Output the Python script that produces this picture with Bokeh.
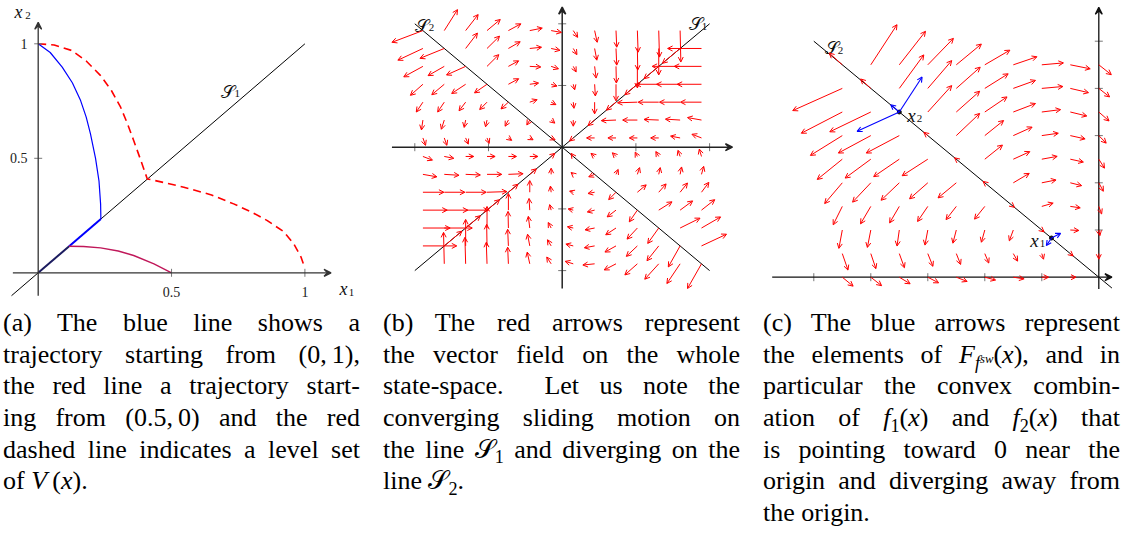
import numpy as np
from bokeh.plotting import figure
from bokeh.models import Arrow, VeeHead, OpenHead, ColumnDataSource, Range1d, Div, Spacer
from bokeh.layouts import row, column
from bokeh.core.properties import value
from bokeh.embed import file_html
from bokeh.resources import INLINE

# ---------------- panel (a) data ----------------
A_BLUE_X = [0.0, 0.045, 0.09, 0.128, 0.159, 0.18, 0.196, 0.215, 0.228, 0.234, 0.235]
A_BLUE_Y = [1.0, 0.962, 0.898, 0.83, 0.752, 0.68, 0.607, 0.5, 0.4, 0.3, 0.235]
A_BLUE_SLIDE = [0.235, 0.115]
A_RED_X = [0.5, 0.434, 0.358, 0.3, 0.234, 0.17, 0.115]
A_RED_Y = [0.0, 0.039, 0.0755, 0.095, 0.109, 0.115, 0.116]
A_MIX_SLIDE = [0.115, 0.0]
A_LEVEL_X = [0.0, 0.06, 0.125, 0.18, 0.234, 0.275, 0.309, 0.335, 0.358, 0.385, 0.4, 0.409,
             0.48, 0.546, 0.65, 0.733, 0.8, 0.859, 0.92, 0.958, 0.985, 1.0]
A_LEVEL_Y = [1.0, 0.995, 0.971, 0.925, 0.861, 0.795, 0.723, 0.65, 0.578, 0.49, 0.44, 0.41,
             0.392, 0.374, 0.34, 0.301, 0.265, 0.228, 0.18, 0.127, 0.07, 0.02]
A_S1 = [-0.1, 1.0]
A_TICKS = [0.5, 1.0]
A_TICK_LABELS = ["0.5", "1"]

# ---------------- panel (b) data ----------------
B_GRID = [-1.89, -1.6, -1.31, -1.02, -0.73, -0.44, -0.15, 0.15, 0.44, 0.73, 1.02, 1.31, 1.6, 1.89]
B_ROWS = [1.89, 1.6, 1.31, 1.02, 0.73, 0.44, 0.15, -0.15, -0.44, -0.73, -1.02, -1.31, -1.6, -1.89]
B_DX = [
    [-0.42, 0.18, 0.17, 0.18, 0.17, 0.17, 0.14, 0.06, 0.035, 0.01, 0.01, 0.01, 0.01, None],
    [-0.34, -0.33, 0.16, 0.17, 0.16, 0.16, 0.12, 0.05, 0.03, 0.01, 0.005, 0.0, -0.24, -0.46],
    [-0.26, -0.22, -0.26, 0.16, 0.14, 0.15, 0.10, 0.04, 0.02, 0.005, 0.0, -0.20, -0.38, -0.37],
    [-0.17, -0.17, -0.19, -0.17, 0.14, 0.12, 0.08, 0.02, 0.01, 0.0, -0.17, -0.31, -0.32, -0.33],
    [-0.09, -0.09, -0.09, -0.10, -0.10, 0.10, 0.065, 0.01, 0.0, -0.13, -0.27, -0.28, -0.28, -0.285],
    [-0.02, -0.04, -0.02, -0.02, -0.045, -0.04, 0.05, 0.0, -0.09, -0.20, -0.20, -0.20, -0.20, -0.19],
    [0.036, 0.036, 0.036, 0.03, 0.045, 0.045, 0.054, -0.05, -0.11, -0.11, -0.11, -0.11, -0.13, -0.13],
    [0.13, 0.13, 0.11, 0.11, 0.11, 0.11, 0.05, -0.03, -0.05, -0.05, -0.03, -0.04, -0.03, -0.03],
    [0.19, 0.20, 0.20, 0.20, 0.20, 0.09, 0.0, -0.03, -0.08, 0.03, 0.03, 0.02, 0.02, 0.03],
    [0.285, 0.28, 0.28, 0.27, 0.13, 0.0, -0.01, -0.05, -0.09, -0.10, 0.12, 0.10, 0.10, 0.10],
    [0.33, 0.32, 0.31, 0.17, 0.0, -0.01, -0.02, -0.07, -0.10, -0.12, -0.11, 0.18, 0.17, 0.18],
    [0.37, 0.38, 0.20, 0.0, -0.005, -0.02, -0.04, -0.08, -0.13, -0.14, -0.14, -0.15, 0.27, 0.26],
    [0.46, 0.24, 0.0, -0.005, -0.01, -0.03, -0.05, -0.10, -0.14, -0.15, -0.15, -0.16, -0.16, 0.34],
    [None, -0.01, -0.01, -0.01, -0.01, -0.035, -0.06, -0.11, -0.16, -0.16, -0.17, -0.19, -0.18, -0.19],
]
B_DY = [
    [-0.19, 0.34, 0.26, 0.18, 0.11, 0.04, -0.03, -0.11, -0.19, -0.27, -0.35, -0.43, -0.51, None],
    [-0.19, -0.16, 0.25, 0.20, 0.11, 0.02, -0.03, -0.10, -0.19, -0.27, -0.35, -0.43, -0.24, 0.0],
    [-0.17, -0.15, -0.14, 0.19, 0.09, -0.01, -0.04, -0.09, -0.19, -0.27, -0.35, -0.20, 0.0, 0.0],
    [-0.18, -0.17, -0.15, -0.14, 0.09, 0.02, -0.03, -0.09, -0.19, -0.27, -0.17, 0.0, 0.0, 0.0],
    [-0.16, -0.16, -0.14, -0.12, -0.11, 0.04, -0.04, -0.10, -0.19, -0.13, -0.01, 0.0, 0.0, 0.0],
    [-0.16, -0.15, -0.12, -0.11, -0.10, -0.08, -0.05, -0.10, -0.09, -0.01, 0.0, 0.01, 0.015, 0.04],
    [-0.12, -0.12, -0.10, -0.09, -0.04, -0.03, -0.03, -0.05, 0.0, 0.0, 0.0, 0.0, 0.03, 0.06],
    [-0.06, -0.03, 0.0, 0.0, 0.0, 0.0, 0.05, 0.05, 0.05, 0.06, 0.07, 0.08, 0.10, 0.12],
    [-0.04, -0.015, -0.01, 0.0, 0.01, 0.09, 0.10, 0.03, -0.04, 0.08, 0.11, 0.11, 0.12, 0.13],
    [0.0, 0.0, 0.0, 0.01, 0.13, 0.19, 0.10, 0.02, -0.02, -0.12, 0.12, 0.135, 0.15, 0.16],
    [0.0, 0.0, 0.0, 0.17, 0.27, 0.19, 0.09, 0.02, -0.03, -0.11, -0.19, 0.135, 0.15, 0.17],
    [0.0, 0.0, 0.20, 0.35, 0.27, 0.19, 0.09, 0.02, -0.03, -0.11, -0.18, -0.25, 0.16, 0.18],
    [0.0, 0.24, 0.43, 0.35, 0.27, 0.19, 0.10, 0.03, -0.03, -0.10, -0.17, -0.24, -0.34, 0.19],
    [None, 0.51, 0.43, 0.35, 0.27, 0.19, 0.11, 0.04, -0.02, -0.10, -0.18, -0.25, -0.32, -0.40],
]
B_TICKS = [-2.0, -1.0, 1.0, 2.0]
B_LINE = [-2.0, 2.0]

# ---------------- panel (c) data ----------------
C_XS = [-4.5, -4.0, -3.5, -3.0, -2.5, -2.0, -1.5, -1.0, -0.5, 0.0]
C_YS = [4.5, 4.0, 3.5, 3.0, 2.5, 2.0, 1.5, 1.0, 0.5, 0.0]
C_DX = [
    [-0.23, 0.46, 0.46, 0.45, 0.44, 0.44, 0.415, 0.38, 0.35, 0.22],
    [-0.87, -0.18, 0.43, 0.42, 0.42, 0.41, 0.39, 0.37, 0.32, 0.19],
    [-0.72, -0.72, None, 0.42, 0.41, 0.39, 0.39, 0.33, 0.29, 0.18],
    [-0.56, -0.57, -0.58, -0.07, 0.41, 0.33, 0.33, 0.29, 0.26, 0.13],
    [-0.44, -0.45, -0.45, -0.45, -0.03, 0.31, 0.29, 0.27, 0.23, 0.10],
    [-0.31, -0.32, -0.32, -0.32, -0.32, -0.03, 0.28, 0.25, 0.20, 0.08],
    [-0.16, -0.18, -0.17, -0.18, -0.18, -0.18, 0.02, 0.20, 0.175, 0.05],
    [-0.06, -0.06, -0.04, -0.05, -0.06, -0.06, -0.07, 0.04, 0.15, 0.02],
    [0.10, 0.09, 0.09, 0.09, 0.076, 0.07, 0.076, 0.03, 0.05, 0.0],
    [0.19, 0.19, 0.19, 0.19, 0.19, 0.19, 0.19, 0.12, 0.10, None],
]
C_DY = [
    [0.25, 0.85, 0.71, 0.56, 0.44, 0.31, 0.17, 0.04, -0.085, -0.21],
    [-0.47, 0.20, 0.71, 0.59, 0.45, 0.31, 0.17, 0.04, -0.09, -0.18],
    [-0.45, -0.42, None, 0.56, 0.44, 0.32, 0.18, 0.05, -0.085, -0.19],
    [-0.42, -0.37, -0.37, 0.07, 0.47, 0.32, 0.18, 0.05, -0.07, -0.16],
    [-0.43, -0.40, -0.37, -0.35, 0.03, 0.30, 0.16, 0.06, -0.06, -0.19],
    [-0.44, -0.41, -0.37, -0.34, -0.32, 0.03, 0.20, 0.06, -0.06, -0.18],
    [-0.39, -0.37, -0.35, -0.32, -0.28, -0.27, -0.02, 0.07, -0.03, -0.16],
    [-0.39, -0.37, -0.34, -0.32, -0.28, -0.26, -0.23, -0.04, -0.01, -0.12],
    [-0.35, -0.32, -0.30, -0.27, -0.23, -0.20, -0.16, -0.12, -0.05, -0.12],
    [-0.19, -0.18, -0.14, -0.12, -0.09, -0.06, -0.035, 0.0, 0.0, None],
]
C_BLUE_X0 = [-3.5, -3.5, -3.5, -0.83, -0.83]
C_BLUE_Y0 = [3.5, 3.5, 3.5, 0.83, 0.83]
C_BLUE_DX = [0.40, -0.74, -0.15, 0.16, -0.09]
C_BLUE_DY = [0.74, -0.41, 0.155, 0.10, -0.16]
C_XTICKS = [-5.0, -4.0, -3.0, -2.0, -1.0]
C_YTICKS = [1.0, 2.0, 3.0, 4.0, 5.0]
C_S2 = [-5.0, 0.23]

# ---------------- captions ----------------
SUB = '<span style="font-size:0.7em;position:relative;top:0.3em;">{}</span>'
CAP_A = [
    "(a) The blue line shows a",
    "trajectory starting from (0,&#8201;1),",
    "the red line a trajectory start-",
    "ing from (0.5,&#8201;0) and the red",
    "dashed line indicates a level set",
    "of <i>V</i>&#8201;(<i>x</i>).",
]
CAP_B = [
    "(b) The red arrows represent",
    "the vector field on the whole",
    "state-space.&nbsp; Let us note the",
    "converging sliding motion on",
    "the line \U0001D4AE" + SUB.format("1") + " and diverging on the",
    "line \U0001D4AE" + SUB.format("2") + ".",
]
CAP_C = [
    "(c) The blue arrows represent",
    "the elements of <i>F</i><span style=\"font-size:0.7em;position:relative;top:0.35em;\"><i>f</i>"
    "<span style=\"font-size:0.7em;position:relative;top:-0.45em;\"><i>sw</i></span></span>(<i>x</i>), and in",
    "particular the convex combin-",
    "ation of <i>f</i>" + SUB.format("1") + "(<i>x</i>) and <i>f</i>" + SUB.format("2") + "(<i>x</i>) that",
    "is pointing toward 0 near the",
    "origin and diverging away from",
    "the origin.",
]

FW, FH = 356, 306
CW, CH = 357, 222
FONT = "Liberation Serif"
CSS_FONT = "'Liberation Serif','Times New Roman',Times,'DejaVu Serif',serif"


def base_fig(xr, yr):
    p = figure(width=FW, height=FH, x_range=Range1d(*xr), y_range=Range1d(*yr),
               output_backend="svg", toolbar_location=None,
               x_axis_location=None, y_axis_location=None, min_border=0)
    p.grid.visible = False
    p.outline_line_color = None
    return p


def add_arrows(p, x0, y0, x1, y1, color, width=1.0, head=5, kind="open"):
    src = ColumnDataSource(dict(x0=x0, y0=y0, x1=x1, y1=y1))
    if kind == "open":
        h = OpenHead(size=head, line_color=color, line_width=width)
    else:
        h = VeeHead(size=head, line_color=color, fill_color=color, line_width=width)
    p.add_layout(Arrow(end=h, source=src, x_start="x0", y_start="y0", x_end="x1", y_end="y1",
                       line_color=color, line_width=width))


def field(xs, ys, DX, DY):
    x0, y0, x1, y1 = [], [], [], []
    for j, yv in enumerate(ys):
        for i, xv in enumerate(xs):
            u, v = DX[j][i], DY[j][i]
            if u is None:
                continue
            x0.append(xv); y0.append(yv); x1.append(xv + u); y1.append(yv + v)
    return x0, y0, x1, y1


def math_label(p, x, y, main, sub, size, sub_size, sdx, sdy, style="italic"):
    p.text(x=[x], y=[y], text=[main], text_font=value(FONT), text_font_size=f"{size}px",
           text_font_style=style, text_align="center", text_baseline="alphabetic", text_color="#111")
    if sub:
        p.text(x=[x], y=[y], text=[sub], x_offset=sdx, y_offset=sdy, text_font=value(FONT),
               text_font_size=f"{sub_size}px", text_align="center", text_baseline="alphabetic",
               text_color="#111")


def ticks(p, xs, ys, vertical, color="#777"):
    p.scatter(x=xs, y=ys, marker="dash", size=8, angle=(np.pi / 2 if vertical else 0.0),
              line_color=color, line_width=1)


# ================= panel (a) =================
pa = base_fig((-0.14136, 1.19348), (-0.14716, 1.18908))
pa.line(A_S1, A_S1, line_color="black", line_width=1)
pa.line(A_LEVEL_X, A_LEVEL_Y, line_color="red", line_width=1.6, line_dash="8 5")
pa.line(A_BLUE_X, A_BLUE_Y, line_color="blue", line_width=1.2)
pa.line(A_BLUE_SLIDE, A_BLUE_SLIDE, line_color="blue", line_width=2)
pa.line(A_RED_X, A_RED_Y, line_color="#c0185a", line_width=1.4)
pa.line(A_MIX_SLIDE, A_MIX_SLIDE, line_color="#1c1c60", line_width=2)
add_arrows(pa, [-0.095], [0.0], [1.098], [0.0], "#333", width=1.3, head=7, kind="vee")
add_arrows(pa, [0.0], [-0.1], [0.0], [1.094], "#333", width=1.3, head=7, kind="vee")
ticks(pa, A_TICKS, [0.0, 0.0], True)
ticks(pa, [0.0, 0.0], A_TICKS, False)
pa.text(x=A_TICKS, y=[-0.086, -0.086], text=A_TICK_LABELS, text_font=value(FONT), text_font_size="14px",
        text_align="center", text_baseline="alphabetic", text_color="#222")
pa.text(x=[-0.04, -0.04], y=A_TICKS, text=A_TICK_LABELS, text_font=value(FONT), text_font_size="14px",
        text_align="right", text_baseline="middle", text_color="#222")
math_label(pa, -0.0739, 1.141, "x", "2", 18, 11, 9.5, 4)
math_label(pa, 1.1447, -0.0686, "x", "1", 18, 11, 8, 4)
math_label(pa, 0.7105, 0.7900, "\U0001D4AE", "1", 18, 11, 9.5, 2, style="normal")

# ================= panel (b) =================
pb = base_fig((-2.42469, 2.40570), (-2.58185, 2.37763))
pb.line(B_LINE, B_LINE, line_color="black", line_width=1)
pb.line(B_LINE, B_LINE[::-1], line_color="black", line_width=1)
add_arrows(pb, [-2.31], [0.0], [2.31], [0.0], "#222", width=1.5, head=7, kind="vee")
add_arrows(pb, [0.0], [-2.29], [0.0], [2.27], "#222", width=1.5, head=7, kind="vee")
ticks(pb, B_TICKS, [0.0] * 4, True)
ticks(pb, [0.0] * 4, B_TICKS, False)
bx0, by0, bx1, by1 = field(B_GRID, B_ROWS, B_DX, B_DY)
add_arrows(pb, bx0, by0, bx1, by1, "red", width=1.0, head=5)
math_label(pb, -1.902, 1.972, "\U0001D4AE", "2", 18, 11, 9.5, 2, style="normal")
math_label(pb, 1.809, 1.989, "\U0001D4AE", "1", 18, 11, 9, 2, style="normal")

# ================= panel (c) =================
pc = base_fig((-5.88246, 0.36316), (-0.62076, 5.86229))
pc.line(C_S2, [-v for v in C_S2], line_color="black", line_width=1)
add_arrows(pc, [-5.73], [0.0], [0.23], [0.0], "#111", width=1.3, head=7, kind="vee")
add_arrows(pc, [0.0], [-0.25], [0.0], [5.72], "#111", width=1.3, head=7, kind="vee")
ticks(pc, C_XTICKS, [0.0] * 5, True)
ticks(pc, [0.0] * 5, C_YTICKS, False)
cx0, cy0, cx1, cy1 = field(C_XS, C_YS, C_DX, C_DY)
add_arrows(pc, cx0, cy0, cx1, cy1, "red", width=1.0, head=5)
add_arrows(pc, C_BLUE_X0, C_BLUE_Y0,
           [a + b for a, b in zip(C_BLUE_X0, C_BLUE_DX)],
           [a + b for a, b in zip(C_BLUE_Y0, C_BLUE_DY)], "blue", width=1.1, head=5)
pc.scatter(x=[C_BLUE_X0[0], C_BLUE_X0[3]], y=[C_BLUE_Y0[0], C_BLUE_Y0[3]], size=4,
           fill_color="#111", line_color="#111")
math_label(pc, -4.681, 4.866, "\U0001D4AE", "2", 18, 11, 8.5, 3, style="normal")
math_label(pc, -3.286, 3.426, "x", "2", 19, 11, 8, 3)
math_label(pc, -1.128, 0.7775, "x", "1", 19, 11, 8, 3)


# ================= captions =================
def caption(lines):
    out = []
    for i, t in enumerate(lines):
        al = "left" if i == len(lines) - 1 else "justify"
        out.append(f'<div style="height:31.7px;line-height:31.7px;text-align:justify;'
                   f'text-align-last:{al};">{t}</div>')
    html = (f'<div style="font-family:{CSS_FONT};font-size:26px;color:#000;'
            f'width:{CW}px;padding-top:1px;">' + "".join(out) + "</div>")
    return Div(text=html, width=CW, height=CH, margin=0,
               styles={"overflow": "visible", "font-family": CSS_FONT})


top = row(pa, Spacer(width=27, height=FH), pb, Spacer(width=24, height=FH), pc)
bottom = row(Spacer(width=3, height=CH), caption(CAP_A), Spacer(width=23, height=CH), caption(CAP_B),
             Spacer(width=23, height=CH), caption(CAP_C))
layout = column(top, bottom)

open("out.html", "w").write(file_html(layout, INLINE))
